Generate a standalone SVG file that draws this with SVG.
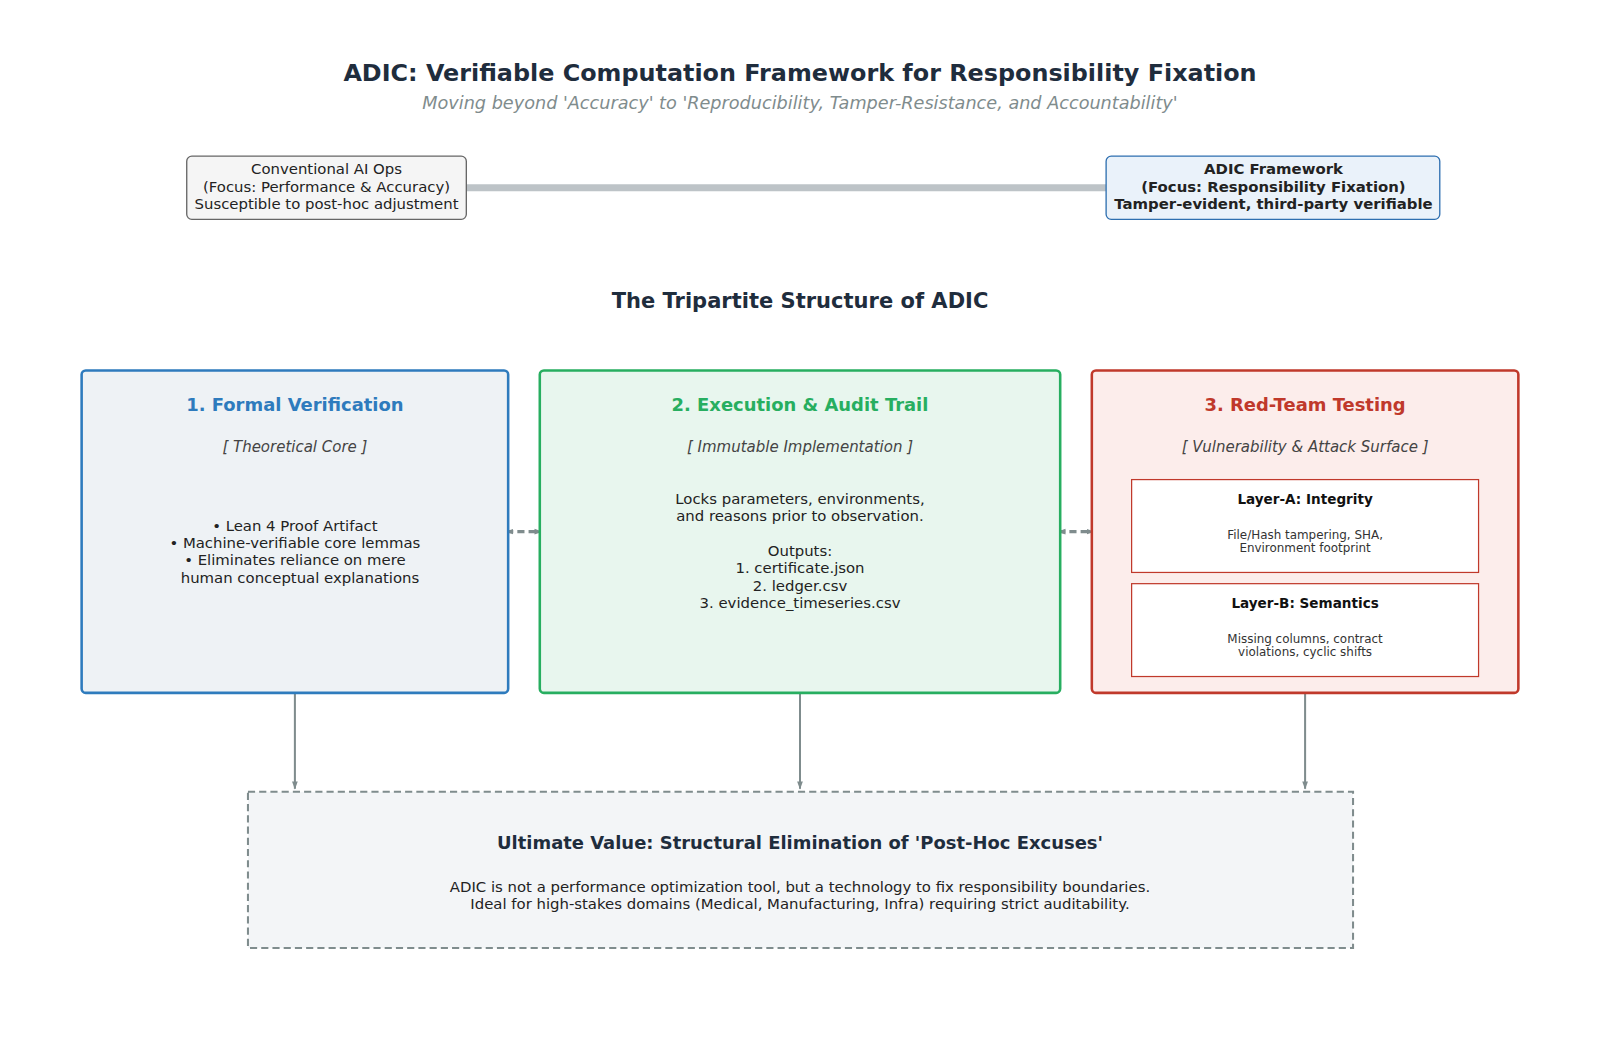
<svg xmlns="http://www.w3.org/2000/svg" width="1600" height="1063" viewBox="0 0 1600 1063">
<style>
text{font-family:"DejaVu Sans",sans-serif;text-anchor:middle}
.t{font-size:14.6px;fill:#222}
.i{font-size:14.7px;font-style:italic;fill:#444}
.h{font-size:17.6px;font-weight:bold}
.conn{stroke:#7f8c8d;stroke-width:2;fill:none}
.dash{stroke:#7f8c8d;stroke-width:3;stroke-dasharray:7,4;fill:none}
</style>
<defs>
<marker id="a" viewBox="0 0 10 10" refX="9" refY="5" markerUnits="userSpaceOnUse" markerWidth="8" markerHeight="8" orient="auto-start-reverse"><path d="M0,1.5L10,5L0,8.5z" fill="#7f8c8d"/></marker>
</defs>
<rect width="1600" height="1063" fill="#fff"/>
<g transform="scale(1.0204)">
<text x="784" y="79" style="font-size:23.4px;font-weight:bold;fill:#1f2d3d">ADIC: Verifiable Computation Framework for Responsibility Fixation</text>
<text x="784" y="107" style="font-size:17.3px;font-style:italic;fill:#7f8c8d">Moving beyond 'Accuracy' to 'Reproducibility, Tamper-Resistance, and Accountability'</text>
<g id="connectors">
<line x1="457" y1="184" x2="1084" y2="184" stroke="#bdc3c7" stroke-width="7"/>
<line x1="496" y1="521" x2="531" y2="521" class="dash" marker-start="url(#a)" marker-end="url(#a)"/>
<line x1="1037" y1="521" x2="1072" y2="521" class="dash" marker-start="url(#a)" marker-end="url(#a)"/>
<line x1="289" y1="677" x2="289" y2="773" class="conn" marker-end="url(#a)"/>
<line x1="784" y1="677" x2="784" y2="773" class="conn" marker-end="url(#a)"/>
<line x1="1279" y1="677" x2="1279" y2="773" class="conn" marker-end="url(#a)"/>
</g>
<g id="conventional">
<rect x="183" y="153" width="274" height="62" rx="5" fill="#f5f5f5" stroke="#666" stroke-width="1.3"/>
<text x="320" y="171" class="t">Conventional AI Ops</text>
<text x="320" y="188" class="t">(Focus: Performance &amp; Accuracy)</text>
<text x="320" y="205" class="t">Susceptible to post-hoc adjustment</text>
</g>
<g id="adic">
<rect x="1084" y="153" width="327" height="62" rx="5" fill="#eaf2fa" stroke="#2e6fb0" stroke-width="1.3"/>
<text x="1248" y="171" class="t" font-weight="bold" fill="#111">ADIC Framework</text>
<text x="1248" y="188" class="t" font-weight="bold" fill="#111">(Focus: Responsibility Fixation)</text>
<text x="1248" y="205" class="t" font-weight="bold" fill="#111">Tamper-evident, third-party verifiable</text>
</g>
<text x="784" y="302" style="font-size:20.6px;font-weight:bold;fill:#1f2d3d">The Tripartite Structure of ADIC</text>
<g id="formal">
<rect x="80" y="363" width="418" height="316" rx="4" fill="#eef2f5" stroke="#2e7bbd" stroke-width="2.5"/>
<text x="289" y="403" class="h" fill="#2e7bbd">1. Formal Verification</text>
<text x="289" y="443" class="i">[ Theoretical Core ]</text>
<text x="289" y="520" class="t">• Lean 4 Proof Artifact</text>
<text x="289" y="537" class="t">• Machine-verifiable core lemmas</text>
<text x="289" y="554" class="t">• Eliminates reliance on mere</text>
<text x="294" y="571" class="t">human conceptual explanations</text>
</g>
<g id="execution">
<rect x="529" y="363" width="510" height="316" rx="4" fill="#e8f6ee" stroke="#27ae60" stroke-width="2.5"/>
<text x="784" y="403" class="h" fill="#27ae60">2. Execution &amp; Audit Trail</text>
<text x="784" y="443" class="i">[ Immutable Implementation ]</text>
<text x="784" y="494" class="t">Locks parameters, environments,</text>
<text x="784" y="511" class="t">and reasons prior to observation.</text>
<text x="784" y="545" class="t">Outputs:</text>
<text x="784" y="562" class="t">1. certificate.json</text>
<text x="784" y="579" class="t">2. ledger.csv</text>
<text x="784" y="596" class="t">3. evidence_timeseries.csv</text>
</g>
<g id="redteam">
<rect x="1070" y="363" width="418" height="316" rx="4" fill="#fcedeb" stroke="#c0392b" stroke-width="2.5"/>
<text x="1279" y="403" class="h" fill="#c0392b">3. Red-Team Testing</text>
<text x="1279" y="443" class="i">[ Vulnerability &amp; Attack Surface ]</text>
<g id="layerA">
<rect x="1109" y="470" width="340" height="91" fill="#fff" stroke="#c0392b" stroke-width="1.2"/>
<text x="1279" y="494" style="font-size:13.3px;font-weight:bold;fill:#111">Layer-A: Integrity</text>
<text x="1279" y="528" style="font-size:11.7px;fill:#333">File/Hash tampering, SHA,</text>
<text x="1279" y="541" style="font-size:11.7px;fill:#333">Environment footprint</text>
</g>
<g id="layerB">
<rect x="1109" y="572" width="340" height="91" fill="#fff" stroke="#c0392b" stroke-width="1.2"/>
<text x="1279" y="596" style="font-size:13.3px;font-weight:bold;fill:#111">Layer-B: Semantics</text>
<text x="1279" y="630" style="font-size:11.7px;fill:#333">Missing columns, contract</text>
<text x="1279" y="643" style="font-size:11.7px;fill:#333">violations, cyclic shifts</text>
</g>
</g>
<g id="ultimate">
<rect x="243" y="776" width="1083" height="153" fill="#f3f5f7" stroke="#7f8c8d" stroke-width="2" stroke-dasharray="7,4"/>
<text x="784" y="832" class="h" fill="#1f2d3d">Ultimate Value: Structural Elimination of 'Post-Hoc Excuses'</text>
<text x="784" y="874" class="t" fill="#444">ADIC is not a performance optimization tool, but a technology to fix responsibility boundaries.</text>
<text x="784" y="891" class="t" fill="#444">Ideal for high-stakes domains (Medical, Manufacturing, Infra) requiring strict auditability.</text>
</g>
</g>
</svg>
